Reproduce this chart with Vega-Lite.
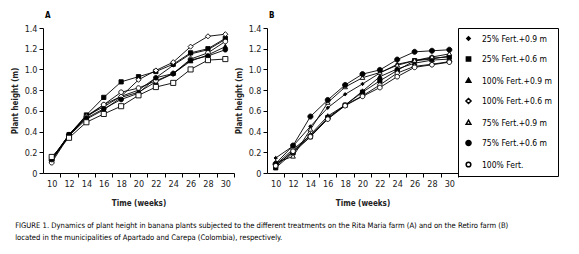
{
  "$schema": "https://vega.github.io/schema/vega-lite/v6.json",
  "padding": {"left": 11, "top": 12, "right": 5, "bottom": 5},
  "background": "white",
  "datasets": {
    "a": [
      {"t":"25% Fert.+0.9 m","w":10,"h":0.14},{"t":"25% Fert.+0.9 m","w":12,"h":0.37},{"t":"25% Fert.+0.9 m","w":14,"h":0.55},{"t":"25% Fert.+0.9 m","w":16,"h":0.64},{"t":"25% Fert.+0.9 m","w":18,"h":0.74},{"t":"25% Fert.+0.9 m","w":20,"h":0.80},{"t":"25% Fert.+0.9 m","w":22,"h":0.92},{"t":"25% Fert.+0.9 m","w":24,"h":1.04},{"t":"25% Fert.+0.9 m","w":26,"h":1.15},{"t":"25% Fert.+0.9 m","w":28,"h":1.19},{"t":"25% Fert.+0.9 m","w":30,"h":1.29},
      {"t":"25% Fert.+0.6 m","w":10,"h":0.13},{"t":"25% Fert.+0.6 m","w":12,"h":0.37},{"t":"25% Fert.+0.6 m","w":14,"h":0.56},{"t":"25% Fert.+0.6 m","w":16,"h":0.73},{"t":"25% Fert.+0.6 m","w":18,"h":0.88},{"t":"25% Fert.+0.6 m","w":20,"h":0.93},{"t":"25% Fert.+0.6 m","w":22,"h":0.98},{"t":"25% Fert.+0.6 m","w":24,"h":1.05},{"t":"25% Fert.+0.6 m","w":26,"h":1.16},{"t":"25% Fert.+0.6 m","w":28,"h":1.20},{"t":"25% Fert.+0.6 m","w":30,"h":1.30},
      {"t":"100% Fert.+0.9 m","w":10,"h":0.12},{"t":"100% Fert.+0.9 m","w":12,"h":0.36},{"t":"100% Fert.+0.9 m","w":14,"h":0.52},{"t":"100% Fert.+0.9 m","w":16,"h":0.61},{"t":"100% Fert.+0.9 m","w":18,"h":0.73},{"t":"100% Fert.+0.9 m","w":20,"h":0.78},{"t":"100% Fert.+0.9 m","w":22,"h":0.88},{"t":"100% Fert.+0.9 m","w":24,"h":0.96},{"t":"100% Fert.+0.9 m","w":26,"h":1.08},{"t":"100% Fert.+0.9 m","w":28,"h":1.14},{"t":"100% Fert.+0.9 m","w":30,"h":1.22},
      {"t":"100% Fert.+0.6 m","w":10,"h":0.12},{"t":"100% Fert.+0.6 m","w":12,"h":0.37},{"t":"100% Fert.+0.6 m","w":14,"h":0.55},{"t":"100% Fert.+0.6 m","w":16,"h":0.66},{"t":"100% Fert.+0.6 m","w":18,"h":0.74},{"t":"100% Fert.+0.6 m","w":20,"h":0.90},{"t":"100% Fert.+0.6 m","w":22,"h":0.99},{"t":"100% Fert.+0.6 m","w":24,"h":1.07},{"t":"100% Fert.+0.6 m","w":26,"h":1.22},{"t":"100% Fert.+0.6 m","w":28,"h":1.32},{"t":"100% Fert.+0.6 m","w":30,"h":1.34},
      {"t":"75% Fert.+0.9 m","w":10,"h":0.10},{"t":"75% Fert.+0.9 m","w":12,"h":0.36},{"t":"75% Fert.+0.9 m","w":14,"h":0.54},{"t":"75% Fert.+0.9 m","w":16,"h":0.66},{"t":"75% Fert.+0.9 m","w":18,"h":0.78},{"t":"75% Fert.+0.9 m","w":20,"h":0.82},{"t":"75% Fert.+0.9 m","w":22,"h":0.89},{"t":"75% Fert.+0.9 m","w":24,"h":0.96},{"t":"75% Fert.+0.9 m","w":26,"h":1.10},{"t":"75% Fert.+0.9 m","w":28,"h":1.16},{"t":"75% Fert.+0.9 m","w":30,"h":1.27},
      {"t":"75% Fert.+0.6 m","w":10,"h":0.13},{"t":"75% Fert.+0.6 m","w":12,"h":0.37},{"t":"75% Fert.+0.6 m","w":14,"h":0.53},{"t":"75% Fert.+0.6 m","w":16,"h":0.62},{"t":"75% Fert.+0.6 m","w":18,"h":0.71},{"t":"75% Fert.+0.6 m","w":20,"h":0.77},{"t":"75% Fert.+0.6 m","w":22,"h":0.92},{"t":"75% Fert.+0.6 m","w":24,"h":0.96},{"t":"75% Fert.+0.6 m","w":26,"h":1.09},{"t":"75% Fert.+0.6 m","w":28,"h":1.13},{"t":"75% Fert.+0.6 m","w":30,"h":1.19},
      {"t":"100% Fert.","w":10,"h":0.155},{"t":"100% Fert.","w":12,"h":0.34},{"t":"100% Fert.","w":14,"h":0.49},{"t":"100% Fert.","w":16,"h":0.57},{"t":"100% Fert.","w":18,"h":0.645},{"t":"100% Fert.","w":20,"h":0.75},{"t":"100% Fert.","w":22,"h":0.83},{"t":"100% Fert.","w":24,"h":0.87},{"t":"100% Fert.","w":26,"h":1.00},{"t":"100% Fert.","w":28,"h":1.09},{"t":"100% Fert.","w":30,"h":1.10}
    ],
    "b": [
      {"t":"25% Fert.+0.9 m","w":10,"h":0.145},{"t":"25% Fert.+0.9 m","w":12,"h":0.26},{"t":"25% Fert.+0.9 m","w":14,"h":0.45},{"t":"25% Fert.+0.9 m","w":16,"h":0.63},{"t":"25% Fert.+0.9 m","w":18,"h":0.76},{"t":"25% Fert.+0.9 m","w":20,"h":0.86},{"t":"25% Fert.+0.9 m","w":22,"h":0.965},{"t":"25% Fert.+0.9 m","w":24,"h":1.05},{"t":"25% Fert.+0.9 m","w":26,"h":1.085},{"t":"25% Fert.+0.9 m","w":28,"h":1.10},{"t":"25% Fert.+0.9 m","w":30,"h":1.13},
      {"t":"25% Fert.+0.6 m","w":10,"h":0.05},{"t":"25% Fert.+0.6 m","w":12,"h":0.195},{"t":"25% Fert.+0.6 m","w":14,"h":0.35},{"t":"25% Fert.+0.6 m","w":16,"h":0.535},{"t":"25% Fert.+0.6 m","w":18,"h":0.655},{"t":"25% Fert.+0.6 m","w":20,"h":0.78},{"t":"25% Fert.+0.6 m","w":22,"h":0.89},{"t":"25% Fert.+0.6 m","w":24,"h":0.99},{"t":"25% Fert.+0.6 m","w":26,"h":1.085},{"t":"25% Fert.+0.6 m","w":28,"h":1.11},{"t":"25% Fert.+0.6 m","w":30,"h":1.12},
      {"t":"100% Fert.+0.9 m","w":10,"h":0.065},{"t":"100% Fert.+0.9 m","w":12,"h":0.21},{"t":"100% Fert.+0.9 m","w":14,"h":0.37},{"t":"100% Fert.+0.9 m","w":16,"h":0.55},{"t":"100% Fert.+0.9 m","w":18,"h":0.655},{"t":"100% Fert.+0.9 m","w":20,"h":0.79},{"t":"100% Fert.+0.9 m","w":22,"h":0.93},{"t":"100% Fert.+0.9 m","w":24,"h":1.005},{"t":"100% Fert.+0.9 m","w":26,"h":1.06},{"t":"100% Fert.+0.9 m","w":28,"h":1.09},{"t":"100% Fert.+0.9 m","w":30,"h":1.10},
      {"t":"100% Fert.+0.6 m","w":10,"h":0.08},{"t":"100% Fert.+0.6 m","w":12,"h":0.23},{"t":"100% Fert.+0.6 m","w":14,"h":0.36},{"t":"100% Fert.+0.6 m","w":16,"h":0.525},{"t":"100% Fert.+0.6 m","w":18,"h":0.655},{"t":"100% Fert.+0.6 m","w":20,"h":0.745},{"t":"100% Fert.+0.6 m","w":22,"h":0.85},{"t":"100% Fert.+0.6 m","w":24,"h":0.965},{"t":"100% Fert.+0.6 m","w":26,"h":1.03},{"t":"100% Fert.+0.6 m","w":28,"h":1.05},{"t":"100% Fert.+0.6 m","w":30,"h":1.075},
      {"t":"75% Fert.+0.9 m","w":10,"h":0.10},{"t":"75% Fert.+0.9 m","w":12,"h":0.16},{"t":"75% Fert.+0.9 m","w":14,"h":0.42},{"t":"75% Fert.+0.9 m","w":16,"h":0.68},{"t":"75% Fert.+0.9 m","w":18,"h":0.83},{"t":"75% Fert.+0.9 m","w":20,"h":0.92},{"t":"75% Fert.+0.9 m","w":22,"h":0.97},{"t":"75% Fert.+0.9 m","w":24,"h":1.04},{"t":"75% Fert.+0.9 m","w":26,"h":1.085},{"t":"75% Fert.+0.9 m","w":28,"h":1.12},{"t":"75% Fert.+0.9 m","w":30,"h":1.15},
      {"t":"75% Fert.+0.6 m","w":10,"h":0.09},{"t":"75% Fert.+0.6 m","w":12,"h":0.265},{"t":"75% Fert.+0.6 m","w":14,"h":0.545},{"t":"75% Fert.+0.6 m","w":16,"h":0.705},{"t":"75% Fert.+0.6 m","w":18,"h":0.85},{"t":"75% Fert.+0.6 m","w":20,"h":0.955},{"t":"75% Fert.+0.6 m","w":22,"h":0.995},{"t":"75% Fert.+0.6 m","w":24,"h":1.095},{"t":"75% Fert.+0.6 m","w":26,"h":1.17},{"t":"75% Fert.+0.6 m","w":28,"h":1.18},{"t":"75% Fert.+0.6 m","w":30,"h":1.19},
      {"t":"100% Fert.","w":10,"h":0.07},{"t":"100% Fert.","w":12,"h":0.21},{"t":"100% Fert.","w":14,"h":0.35},{"t":"100% Fert.","w":16,"h":0.52},{"t":"100% Fert.","w":18,"h":0.65},{"t":"100% Fert.","w":20,"h":0.74},{"t":"100% Fert.","w":22,"h":0.825},{"t":"100% Fert.","w":24,"h":0.93},{"t":"100% Fert.","w":26,"h":1.02},{"t":"100% Fert.","w":28,"h":1.045},{"t":"100% Fert.","w":30,"h":1.07}
    ]
  },
  "hconcat": [
    {
      "width": 191, "height": 145,
      "data": {"name": "a"},
      "title": {"text": "A", "anchor": "start", "frame": "group", "fontSize": 8, "fontWeight": "bold", "dx": 2, "offset": 4},
      "encoding": {
        "x": {"field": "w", "type": "quantitative", "scale": {"domain": [9, 31], "nice": false, "zero": false},
              "axis": {"values": [8,10,12,14,16,18,20,22,24,26,28,30], "labelExpr": "datum.value < 10 ? '' : datum.label", "tickOffset": 8.68, "labelOffset": -8.68, "title": "Time (weeks)", "titlePadding": 11}},
        "y": {"field": "h", "type": "quantitative", "scale": {"domain": [0, 1.4], "nice": false},
              "axis": {"values": [0,0.2,0.4,0.6,0.8,1.0,1.2,1.4], "labelExpr": "datum.value == 0 ? '0' : format(datum.value, '.1f')", "title": "Plant height (m)"}}
      },
      "layer": [
        {"mark": {"type": "line", "color": "black", "strokeWidth": 0.9}, "encoding": {"detail": {"field": "t"}}},
        {"mark": {"type": "point", "filled": true, "stroke": "black", "strokeWidth": 0.9, "opacity": 1, "size": 72},
         "encoding": {
           "shape": {"field": "t", "type": "nominal", "legend": null,
             "scale": {"domain": ["25% Fert.+0.9 m","25% Fert.+0.6 m","100% Fert.+0.9 m","100% Fert.+0.6 m","75% Fert.+0.9 m","75% Fert.+0.6 m","100% Fert."],
                       "range": ["M0,-0.4L0.4,0L0,0.4L-0.4,0Z","M-0.5,-0.5H0.5V0.5H-0.5Z","M0,-0.55L0.55,0.4H-0.55Z","M0,-0.6L0.6,0L0,0.6L-0.6,0Z","M-0.55,0A0.55,0.55,0,1,0,0.55,0A0.55,0.55,0,1,0,-0.55,0Z","M-0.55,0A0.55,0.55,0,1,0,0.55,0A0.55,0.55,0,1,0,-0.55,0Z","M-0.6,-0.6H0.6V0.6H-0.6Z"]}},
           "fill": {"field": "t", "type": "nominal", "legend": null,
             "scale": {"domain": ["25% Fert.+0.9 m","25% Fert.+0.6 m","100% Fert.+0.9 m","100% Fert.+0.6 m","75% Fert.+0.9 m","75% Fert.+0.6 m","100% Fert."],
                       "range": ["black","black","black","white","white","black","white"]}}
         }}
      ]
    },
    {
      "width": 191, "height": 145,
      "data": {"name": "b"},
      "title": {"text": "B", "anchor": "start", "frame": "group", "fontSize": 8, "fontWeight": "bold", "dx": 2, "offset": 4},
      "encoding": {
        "x": {"field": "w", "type": "quantitative", "scale": {"domain": [9, 31], "nice": false, "zero": false},
              "axis": {"values": [8,10,12,14,16,18,20,22,24,26,28,30], "labelExpr": "datum.value < 10 ? '' : datum.label", "tickOffset": 8.68, "labelOffset": -8.68, "title": "Time (weeks)", "titlePadding": 11}},
        "y": {"field": "h", "type": "quantitative", "scale": {"domain": [0, 1.4], "nice": false},
              "axis": {"values": [0,0.2,0.4,0.6,0.8,1.0,1.2,1.4], "labelExpr": "datum.value == 0 ? '0' : format(datum.value, '.1f')", "title": "Plant height (m)"}}
      },
      "layer": [
        {"mark": {"type": "line", "color": "black", "strokeWidth": 0.9}, "encoding": {"detail": {"field": "t"}}},
        {"mark": {"type": "point", "filled": true, "stroke": "black", "strokeWidth": 0.9, "opacity": 1, "size": 72},
         "encoding": {
           "shape": {"field": "t", "type": "nominal",
             "scale": {"domain": ["25% Fert.+0.9 m","25% Fert.+0.6 m","100% Fert.+0.9 m","100% Fert.+0.6 m","75% Fert.+0.9 m","75% Fert.+0.6 m","100% Fert."],
                       "range": ["M0,-0.4L0.4,0L0,0.4L-0.4,0Z","M-0.5,-0.5H0.5V0.5H-0.5Z","M0,-0.55L0.55,0.4H-0.55Z","M0,-0.6L0.6,0L0,0.6L-0.6,0Z","M0,-0.55L0.55,0.4H-0.55Z","M-0.6,0A0.6,0.6,0,1,0,0.6,0A0.6,0.6,0,1,0,-0.6,0Z","M-0.55,0A0.55,0.55,0,1,0,0.55,0A0.55,0.55,0,1,0,-0.55,0Z"]},
             "legend": {
               "title": null, "orient": "right", "offset": 0,
               "strokeColor": "black", "padding": 5.5, "rowPadding": 9.5,
               "symbolSize": 72, "labelOffset": 8.5,
               "labelFontSize": 8.5, "labelColor": "black",
               "encode": {"symbols": {"stroke": {"value": "black"}, "strokeWidth": {"value": 0.9}, "opacity": {"value": 1}}}
             }},
           "fill": {"field": "t", "type": "nominal",
             "scale": {"domain": ["25% Fert.+0.9 m","25% Fert.+0.6 m","100% Fert.+0.9 m","100% Fert.+0.6 m","75% Fert.+0.9 m","75% Fert.+0.6 m","100% Fert."],
                       "range": ["black","black","black","white","white","black","white"]},
             "legend": {
               "title": null, "orient": "right", "offset": 0,
               "strokeColor": "black", "padding": 5.5, "rowPadding": 9.5,
               "symbolSize": 72, "labelOffset": 8.5,
               "labelFontSize": 8.5, "labelColor": "black",
               "encode": {"symbols": {"stroke": {"value": "black"}, "strokeWidth": {"value": 0.9}, "opacity": {"value": 1}}}
             }}
         }}
      ]
    }
  ],
  "spacing": 33,
  "bounds": "flush",
  "resolve": {"scale": {"shape": "independent", "fill": "independent"}, "legend": {"shape": "independent", "fill": "independent"}},
  "title": {
    "text": ["FIGURE 1. Dynamics of plant height in banana plants subjected to the different treatments on the Rita Maria farm (A) and on the Retiro farm (B)", "located in the municipalities of Apartado and Carepa (Colombia), respectively."],
    "orient": "bottom", "anchor": "start", "frame": "bounds", "fontSize": 7.6, "fontWeight": "normal", "color": "black", "offset": 15, "lineHeight": 12, "dx": 4
  },
  "config": {
    "view": {"stroke": null},
    "font": "Liberation Sans Narrow, DejaVu Sans Condensed, Liberation Sans, sans-serif",
    "axis": {
      "grid": false, "domainColor": "black", "tickColor": "black", "tickSize": 4, "domainWidth": 1, "tickWidth": 1,
      "labelFontSize": 9, "labelColor": "#222", "labelPadding": 2,
      "titleFontSize": 8, "titleFontWeight": "bold", "titleColor": "#222", "titlePadding": 5
    },
    "legend": {"labelFont": "Liberation Sans Narrow, DejaVu Sans Condensed, Liberation Sans, sans-serif"},
    "title": {"font": "Liberation Sans Narrow, DejaVu Sans Condensed, Liberation Sans, sans-serif", "color": "black"}
  }
}
